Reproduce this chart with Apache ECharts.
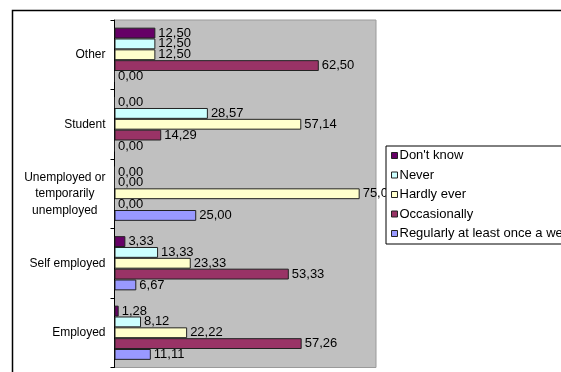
<!DOCTYPE html>
<html>
<head>
<meta charset="utf-8">
<script src="https://cdn.jsdelivr.net/npm/echarts@6/dist/echarts.min.js"></script>
<style>
  html, body { margin: 0; padding: 0; background: #fff; }
  #chart { width: 561px; height: 372px; }
</style>
</head>
<body>
<div id="chart"></div>
<script>
// Categories listed bottom-to-top along the vertical axis
const categories = ['Employed', 'Self employed', 'Unemployed or\ntemporarily\nunemployed', 'Student', 'Other'];

// Percentages per response, in the same category order
const dontKnow     = [1.28, 3.33, 0.00, 0.00, 12.50];
const never        = [8.12, 13.33, 0.00, 28.57, 12.50];
const hardlyEver   = [22.22, 23.33, 75.00, 57.14, 12.50];
const occasionally = [57.26, 53.33, 0.00, 14.29, 62.50];
const regularly    = [11.11, 6.67, 25.00, 0.00, 0.00];

const seriesNames = ["Don't know", 'Never', 'Hardly ever', 'Occasionally', 'Regularly at least once a week'];
const seriesColors = {
  "Don't know": '#660066',
  'Never': '#CCFFFF',
  'Hardly ever': '#FFFFCC',
  'Occasionally': '#993366',
  'Regularly at least once a week': '#9999FF'
};

const FONT = '"Liberation Sans", Arial, sans-serif';

function makeSeries(name, data) {
  return {
    name: name,
    type: 'bar',
    data: data,
    barGap: '0%',
    barCategoryGap: '22%',
    itemStyle: { color: seriesColors[name], borderColor: '#222', borderWidth: 1 },
    label: {
      show: true,
      position: 'right',
      distance: 3,
      color: '#000',
      fontFamily: FONT,
      fontSize: 13,
      formatter: p => p.value.toFixed(2).replace('.', ',')
    }
  };
}

const chart = echarts.init(document.getElementById('chart'), null, { renderer: 'canvas' });

chart.setOption({
  animation: false,
  backgroundColor: '#fff',
  textStyle: { fontFamily: FONT },
  graphic: [{
    type: 'rect',
    z: 0,
    silent: true,
    shape: { x: 12.5, y: 10.5, width: 700, height: 500 },
    style: { fill: null, stroke: '#000', lineWidth: 1.5 }
  }],
  grid: {
    left: 114.5,
    top: 20,
    right: 185,
    bottom: 4.5,
    show: true,
    backgroundColor: '#C0C0C0',
    borderColor: '#9a9a9a',
    borderWidth: 1
  },
  legend: {
    orient: 'vertical',
    left: 386,
    top: 146,
    data: seriesNames,
    backgroundColor: '#fff',
    borderColor: '#000',
    borderWidth: 1,
    padding: [2, 6, 3, 5],
    itemWidth: 6,
    itemHeight: 6,
    itemGap: 4.5,
    icon: 'rect',
    itemStyle: { borderColor: '#222', borderWidth: 1 },
    textStyle: { fontFamily: FONT, fontSize: 13, lineHeight: 15, color: '#000', padding: [0, 0, 0, -3] }
  },
  xAxis: {
    type: 'value',
    min: 0,
    max: 80,
    show: false,
    splitLine: { show: false }
  },
  yAxis: {
    type: 'category',
    data: categories,
    axisLine: { show: true, lineStyle: { color: '#000', width: 1 } },
    axisTick: { show: true, length: 4, lineStyle: { color: '#000' } },
    axisLabel: {
      margin: 9,
      color: '#000',
      fontFamily: FONT,
      fontSize: 12,
      align: 'right',
      formatter: v => v.split('\n').map(s => '{c|' + s + '}').join('\n'),
      rich: {
        c: { align: 'center', lineHeight: 16.5, fontSize: 12, fontFamily: FONT, color: '#000' }
      }
    }
  },
  // Series are stacked top-to-bottom within each category in this order
  series: [
    makeSeries("Don't know", dontKnow),
    makeSeries('Never', never),
    makeSeries('Hardly ever', hardlyEver),
    makeSeries('Occasionally', occasionally),
    makeSeries('Regularly at least once a week', regularly)
  ]
});
</script>
</body>
</html>
